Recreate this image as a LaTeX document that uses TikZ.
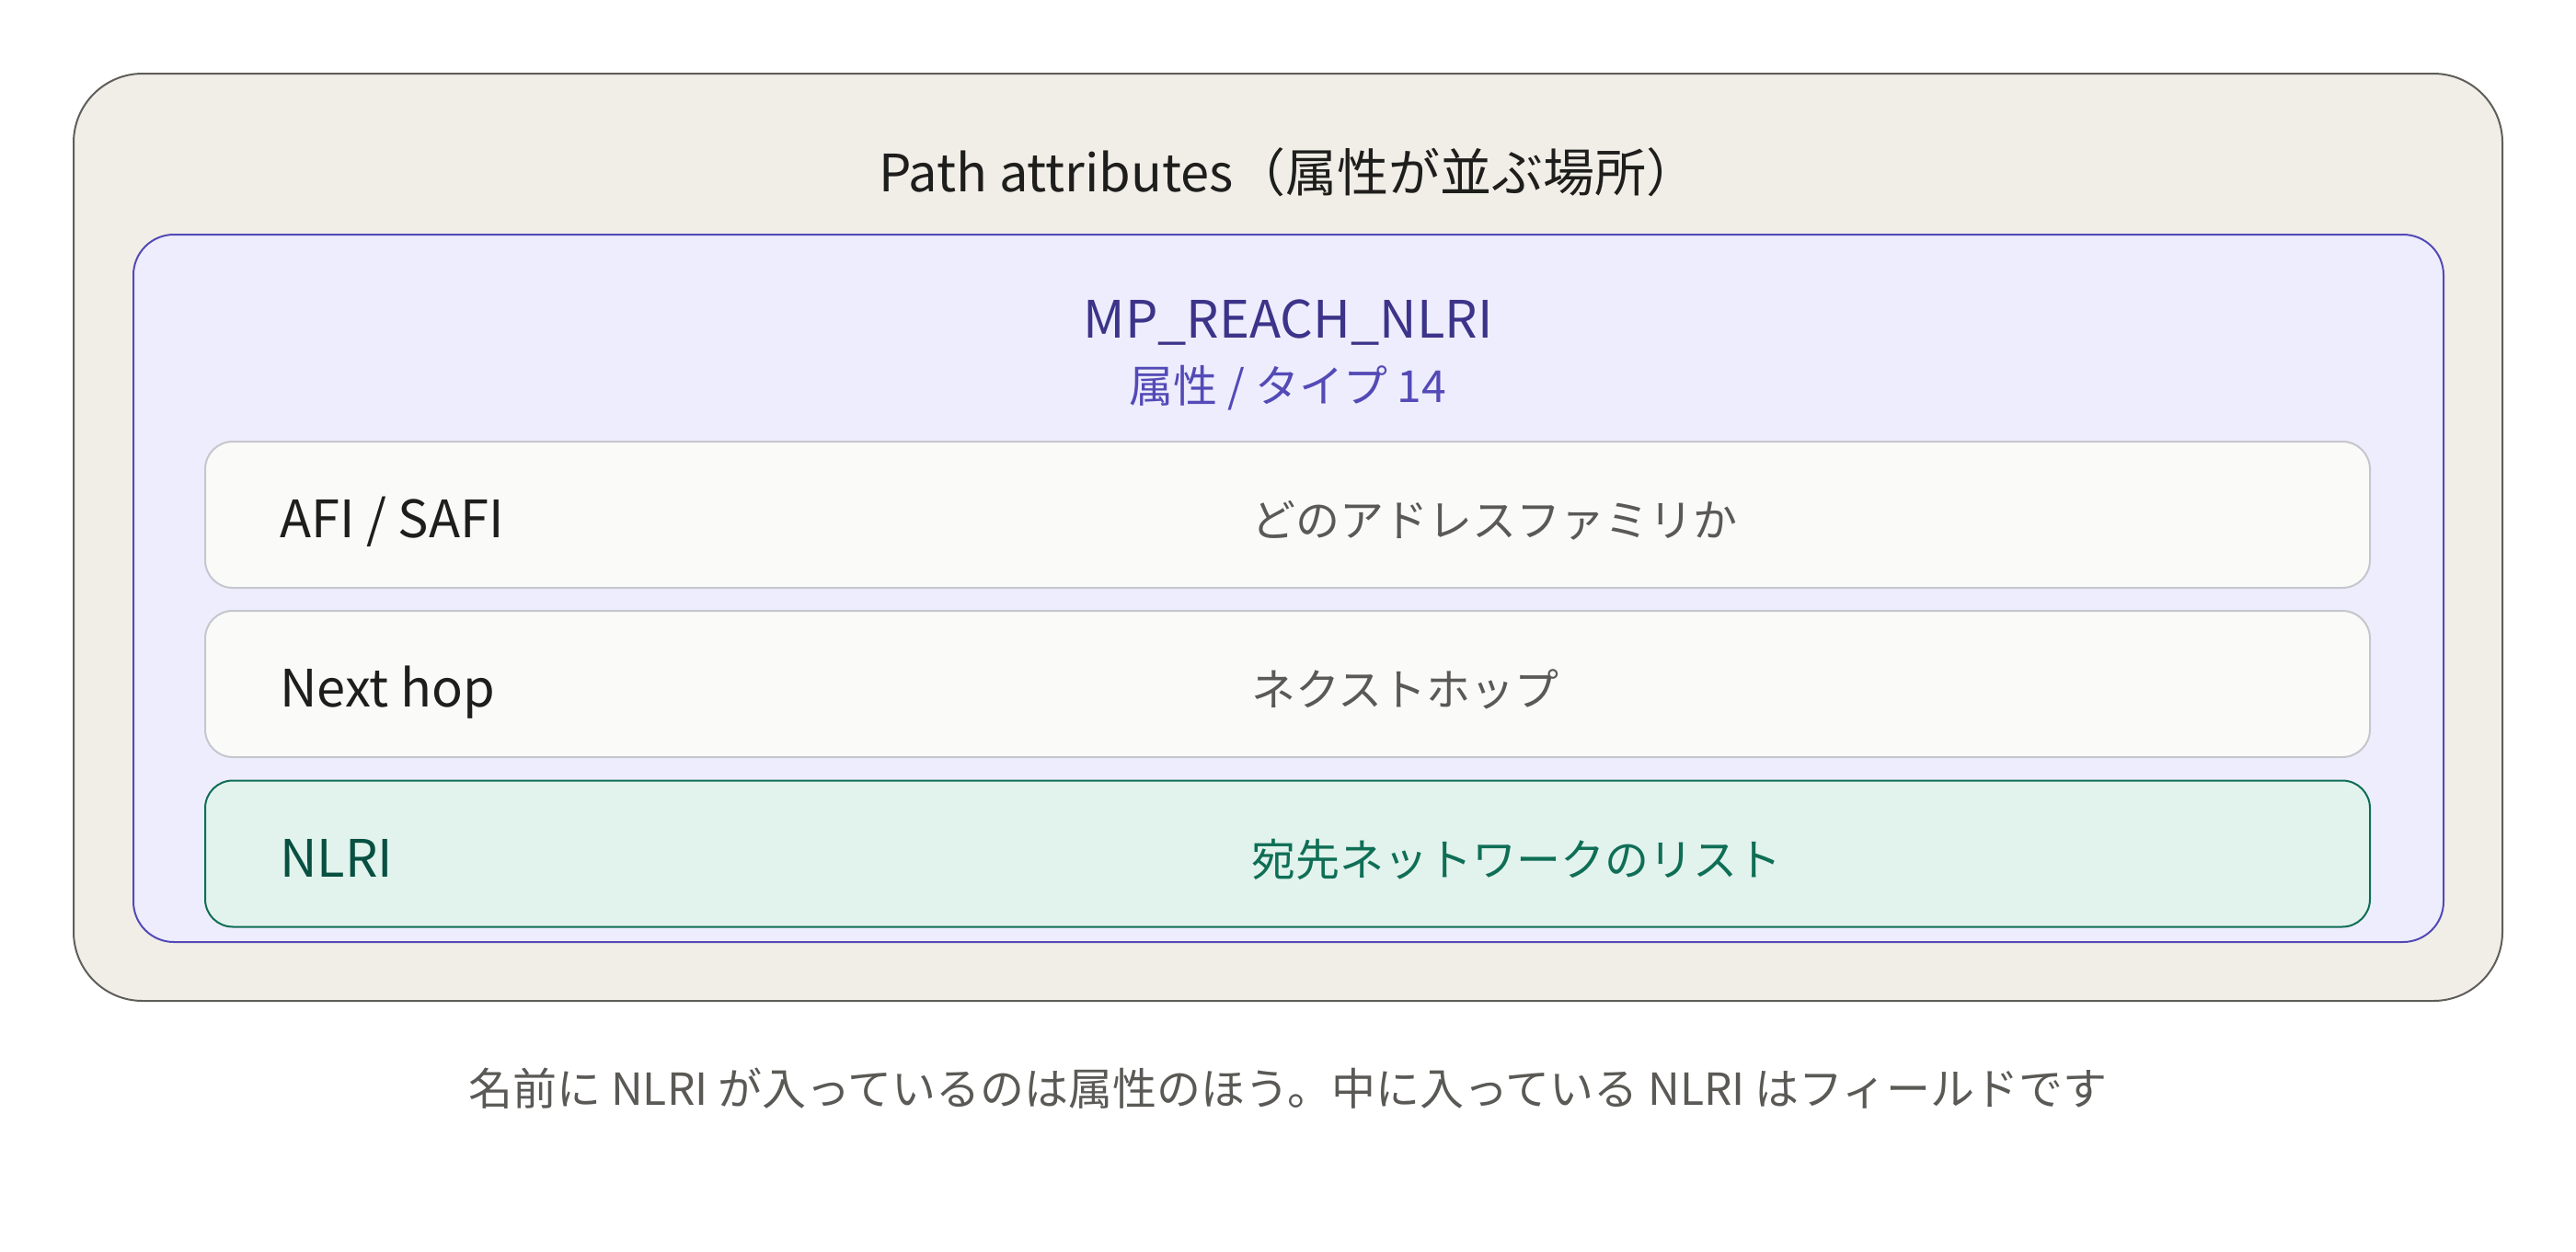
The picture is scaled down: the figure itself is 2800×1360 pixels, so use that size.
\documentclass[tikz,border=0pt]{standalone}
\usepackage{fontspec}
\setmainfont{Noto Sans CJK JP}
\usepackage{tikz}
\usetikzlibrary{positioning}
\definecolor{sandfill}{HTML}{F1EEE8}
\definecolor{sanddraw}{HTML}{5F5E5A}
\definecolor{lavfill}{HTML}{EEEDFD}
\definecolor{lavdraw}{HTML}{534AB7}
\definecolor{lavtext}{HTML}{3C3489}
\definecolor{rowfill}{HTML}{FAFAF8}
\definecolor{rowdraw}{HTML}{C6C6CE}
\definecolor{mintfill}{HTML}{E1F3EC}
\definecolor{mintdraw}{HTML}{0F6E56}
\definecolor{minttext}{HTML}{085041}
\definecolor{inktext}{HTML}{1E1E1C}
\definecolor{greytext}{HTML}{5A5955}
\newcommand{\bigSize}[0]{\fontsize{28}{34}\selectfont}
\newcommand{\smallSize}[0]{\fontsize{24}{29}\selectfont}

\begin{document}
\begin{tikzpicture}[x=0.5pt,y=-0.5pt]
  \tikzset{every node/.style={inner sep=0pt,text height=0.8em,text depth=0.2em},
    fieldrow/.style={draw=rowdraw,fill=rowfill,line width=1pt,rounded corners=15pt,
      minimum width=1176.5pt,minimum height=79.5pt},
    keyrow/.style={fieldrow,draw=mintdraw,fill=mintfill},
    fieldname/.style={anchor=west,yshift=-9.5pt,font=\bigSize,text=inktext},
    fielddesc/.style={anchor=west,yshift=-9pt,font=\smallSize,text=greytext}}
  \useasboundingbox (0,0) rectangle (2800,1360);
  % outer and inner boxes
  \draw[draw=sanddraw,fill=sandfill,line width=1pt,rounded corners=37.5pt]
    (80,80) rectangle (2720,1088);
  \node (title) [font=\bigSize,text=inktext] at (1400,202) {Path attributes（属性が並ぶ場所）};
  \draw[draw=lavdraw,fill=lavfill,line width=1pt,rounded corners=22pt]
    (145,255) rectangle (2656,1024);
  \node (reach) [font=\bigSize,text=lavtext] at (1400,361) {MP\_REACH\_NLRI};
  \node (reachsub) [font=\smallSize,text=lavdraw] at (1400,431) {属性 / タイプ 14};
  % fields
  \node (afirow) [fieldrow] at (1399.5,559.5) {};
  \node (afi) [fieldname,right=41pt of afirow.west] {AFI / SAFI};
  \node (afidesc) [fielddesc,right=569pt of afirow.west] {どのアドレスファミリか};
  \node (hoprow) [fieldrow] at (1399.5,743.5) {};
  \node (hop) [fieldname,right=41pt of hoprow.west] {Next hop};
  \node (hopdesc) [fielddesc,right=569pt of hoprow.west] {ネクストホップ};
  \node (nlrirow) [keyrow] at (1399.5,928) {};
  \node (nlri) [fieldname,text=minttext,right=41pt of nlrirow.west] {NLRI};
  \node (nlridesc) [fielddesc,text=mintdraw,right=569pt of nlrirow.west] {宛先ネットワークのリスト};
  \node (note) [font=\smallSize,text=greytext] at (1400,1195)
    {名前に NLRI が入っているのは属性のほう。中に入っている NLRI はフィールドです};
\end{tikzpicture}
\end{document}
